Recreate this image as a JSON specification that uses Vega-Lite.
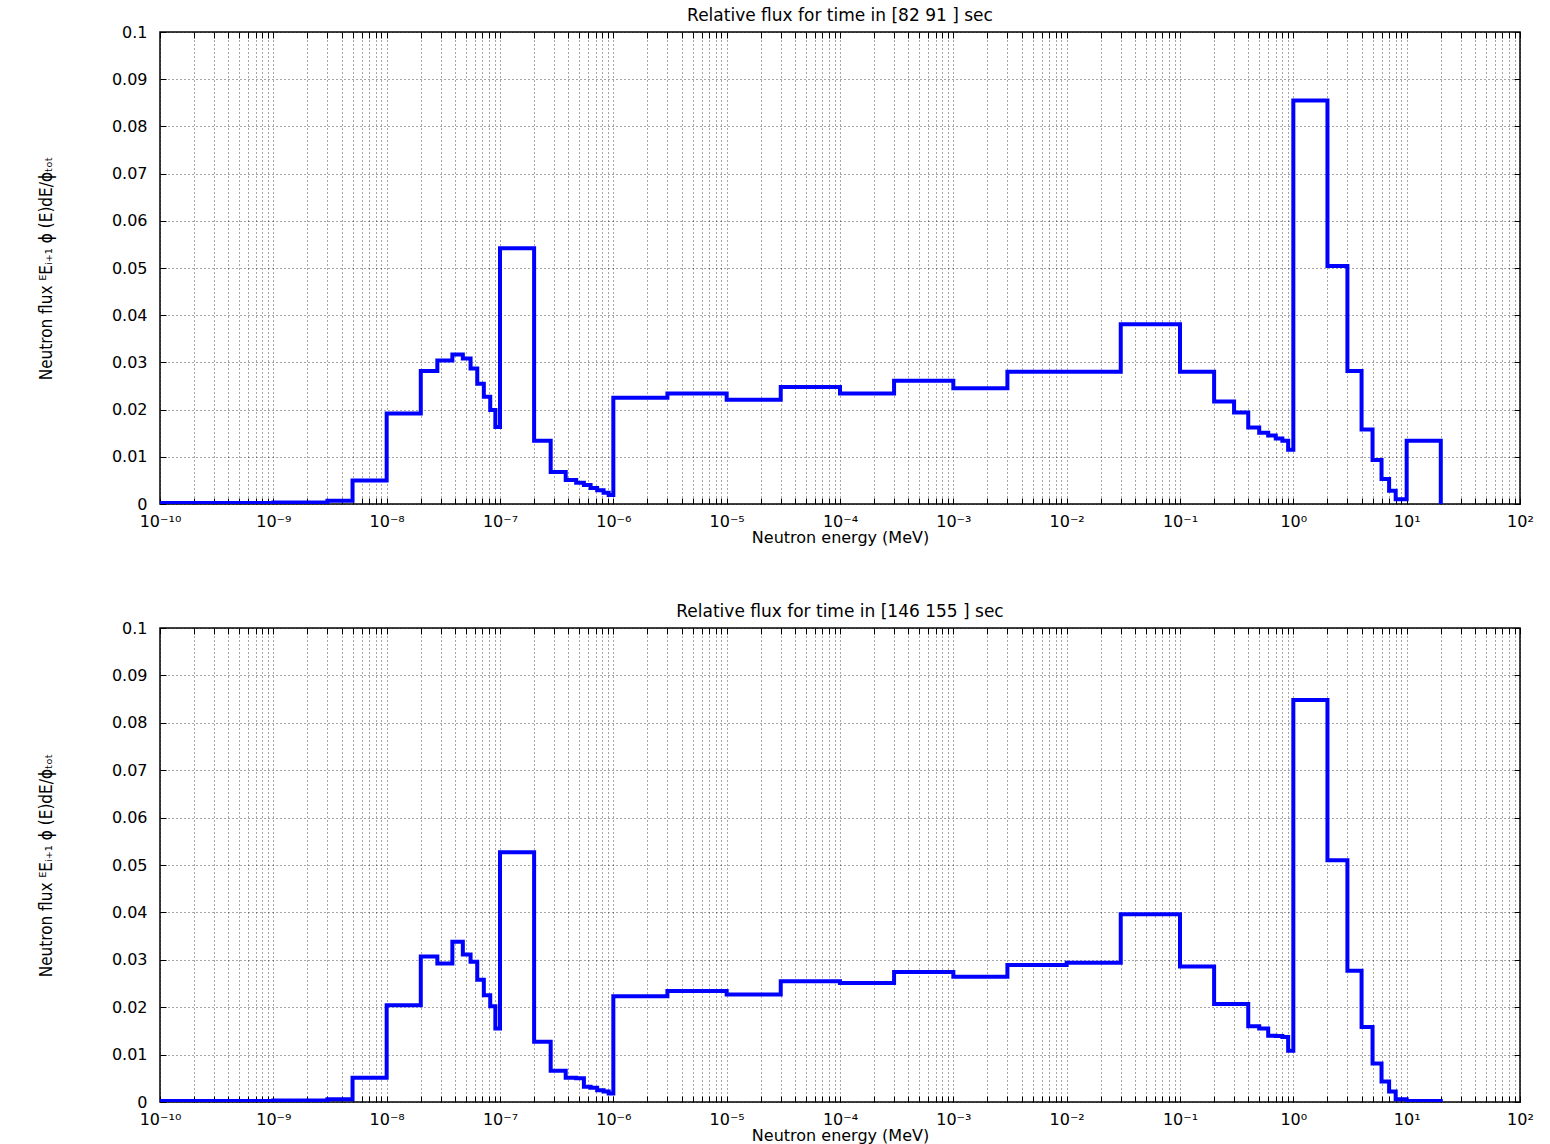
{
  "$schema": "https://vega.github.io/schema/vega-lite/v6.json",
  "background": "white",
  "padding": {"left": 36, "top": 6, "right": 25, "bottom": 0},
  "spacing": 56,
  "datasets": {
    "top": [
      {"E": 1e-10, "flux": 0.0002}, {"E": 1e-9, "flux": 0.0003}, {"E": 3e-9, "flux": 0.0007}, {"E": 5e-9, "flux": 0.0050},
      {"E": 1e-8, "flux": 0.0192}, {"E": 2e-8, "flux": 0.0282}, {"E": 2.8e-8, "flux": 0.0304}, {"E": 3.8e-8, "flux": 0.0317},
      {"E": 4.7e-8, "flux": 0.0308}, {"E": 5.5e-8, "flux": 0.0287}, {"E": 6.3e-8, "flux": 0.0255}, {"E": 7.2e-8, "flux": 0.0227},
      {"E": 8.2e-8, "flux": 0.0199}, {"E": 9.1e-8, "flux": 0.0163}, {"E": 1e-7, "flux": 0.0542}, {"E": 2e-7, "flux": 0.0134},
      {"E": 2.8e-7, "flux": 0.0068}, {"E": 3.8e-7, "flux": 0.0051}, {"E": 4.7e-7, "flux": 0.0045}, {"E": 5.5e-7, "flux": 0.0040},
      {"E": 6.3e-7, "flux": 0.0034}, {"E": 7.2e-7, "flux": 0.0029}, {"E": 8.2e-7, "flux": 0.0024}, {"E": 9.1e-7, "flux": 0.0019},
      {"E": 1e-6, "flux": 0.0225}, {"E": 3e-6, "flux": 0.0234}, {"E": 1e-5, "flux": 0.0221}, {"E": 3e-5, "flux": 0.0248},
      {"E": 1e-4, "flux": 0.0234}, {"E": 3e-4, "flux": 0.0261}, {"E": 1e-3, "flux": 0.0245}, {"E": 3e-3, "flux": 0.0280},
      {"E": 1e-2, "flux": 0.0280}, {"E": 3e-2, "flux": 0.0381}, {"E": 0.1, "flux": 0.0280}, {"E": 0.2, "flux": 0.0217},
      {"E": 0.3, "flux": 0.0194}, {"E": 0.4, "flux": 0.0162}, {"E": 0.5, "flux": 0.0151}, {"E": 0.6, "flux": 0.0145},
      {"E": 0.7, "flux": 0.0139}, {"E": 0.8, "flux": 0.0134}, {"E": 0.9, "flux": 0.0115}, {"E": 1, "flux": 0.0855},
      {"E": 2, "flux": 0.0504}, {"E": 3, "flux": 0.0282}, {"E": 4, "flux": 0.0158}, {"E": 5, "flux": 0.0093},
      {"E": 6, "flux": 0.0053}, {"E": 7, "flux": 0.0028}, {"E": 8, "flux": 0.0010}, {"E": 10, "flux": 0.0134},
      {"E": 20, "flux": 0}
    ],
    "bottom": [
      {"E": 1e-10, "flux": 0.0002}, {"E": 1e-9, "flux": 0.0003}, {"E": 3e-9, "flux": 0.0006}, {"E": 5e-9, "flux": 0.0051},
      {"E": 1e-8, "flux": 0.0204}, {"E": 2e-8, "flux": 0.0307}, {"E": 2.8e-8, "flux": 0.0292}, {"E": 3.8e-8, "flux": 0.0338},
      {"E": 4.7e-8, "flux": 0.0311}, {"E": 5.5e-8, "flux": 0.0296}, {"E": 6.3e-8, "flux": 0.0258}, {"E": 7.2e-8, "flux": 0.0225},
      {"E": 8.2e-8, "flux": 0.0202}, {"E": 9.1e-8, "flux": 0.0155}, {"E": 1e-7, "flux": 0.0527}, {"E": 2e-7, "flux": 0.0127},
      {"E": 2.8e-7, "flux": 0.0066}, {"E": 3.8e-7, "flux": 0.0051}, {"E": 4.7e-7, "flux": 0.0050}, {"E": 5.5e-7, "flux": 0.0032},
      {"E": 6.3e-7, "flux": 0.0030}, {"E": 7.2e-7, "flux": 0.0025}, {"E": 8.2e-7, "flux": 0.0022}, {"E": 9.1e-7, "flux": 0.0018},
      {"E": 1e-6, "flux": 0.0223}, {"E": 3e-6, "flux": 0.0234}, {"E": 1e-5, "flux": 0.0227}, {"E": 3e-5, "flux": 0.0255},
      {"E": 1e-4, "flux": 0.0251}, {"E": 3e-4, "flux": 0.0274}, {"E": 1e-3, "flux": 0.0264}, {"E": 3e-3, "flux": 0.0289},
      {"E": 1e-2, "flux": 0.0294}, {"E": 3e-2, "flux": 0.0396}, {"E": 0.1, "flux": 0.0286}, {"E": 0.2, "flux": 0.0207},
      {"E": 0.3, "flux": 0.0207}, {"E": 0.4, "flux": 0.0160}, {"E": 0.5, "flux": 0.0155}, {"E": 0.6, "flux": 0.0140},
      {"E": 0.7, "flux": 0.0139}, {"E": 0.8, "flux": 0.0137}, {"E": 0.9, "flux": 0.0108}, {"E": 1, "flux": 0.0848},
      {"E": 2, "flux": 0.0510}, {"E": 3, "flux": 0.0277}, {"E": 4, "flux": 0.0158}, {"E": 5, "flux": 0.0081},
      {"E": 6, "flux": 0.0043}, {"E": 7, "flux": 0.0022}, {"E": 8, "flux": 0.0006}, {"E": 10, "flux": 0.0002},
      {"E": 20, "flux": 0.0002}
    ]
  },
  "config": {
    "view": {"stroke": "black", "strokeWidth": 1.5},
    "font": "DejaVu Sans",
    "title": {"fontSize": 17, "fontWeight": "normal", "font": "DejaVu Sans", "offset": -1, "color": "black"},
    "axis": {
      "grid": true, "gridColor": "#000000", "gridDash": [1, 3], "gridOpacity": 0.7, "gridWidth": 1,
      "domain": false, "tickColor": "black", "tickSize": -6, "tickWidth": 1,
      "labelColor": "black", "labelFont": "DejaVu Sans", "labelOverlap": false, "labelFlush": false, "labelBound": false,
      "titleColor": "black", "titleFontWeight": "normal"
    }
  },
  "vconcat": [
    {
      "width": 1360, "height": 472,
      "title": "Relative flux for time in [82 91 ] sec",
      "data": {"name": "top"},
      "layer": [
        {
          "mark": {"type": "line", "interpolate": "step-after", "color": "#0000ff", "strokeWidth": 4, "strokeJoin": "miter", "strokeCap": "square", "clip": true},
          "encoding": {
            "x": {"field": "E", "type": "quantitative", "scale": {"type": "log", "domain": [1e-10, 100], "nice": false},
              "axis": {"orient": "bottom", "title": "Neutron energy (MeV)", "titleFontSize": 16, "titlePadding": 0, "labelFontSize": 16, "labelPadding": 15,
                "values": [1e-10,2e-10,3e-10,4e-10,5e-10,6e-10,7e-10,8e-10,9e-10,1e-9,2e-9,3e-9,4e-9,5e-9,6e-9,7e-9,8e-9,9e-9,1e-8,2e-8,3e-8,4e-8,5e-8,6e-8,7e-8,8e-8,9e-8,1e-7,2e-7,3e-7,4e-7,5e-7,6e-7,7e-7,8e-7,9e-7,1e-6,2e-6,3e-6,4e-6,5e-6,6e-6,7e-6,8e-6,9e-6,1e-5,2e-5,3e-5,4e-5,5e-5,6e-5,7e-5,8e-5,9e-5,1e-4,2e-4,3e-4,4e-4,5e-4,6e-4,7e-4,8e-4,9e-4,1e-3,2e-3,3e-3,4e-3,5e-3,6e-3,7e-3,8e-3,9e-3,0.01,0.02,0.03,0.04,0.05,0.06,0.07,0.08,0.09,0.1,0.2,0.3,0.4,0.5,0.6,0.7,0.8,0.9,1,2,3,4,5,6,7,8,9,10,20,30,40,50,60,70,80,90,100],
                "labelExpr": "abs(log(datum.value)/LN10 - round(log(datum.value)/LN10)) < 0.01 ? '10' + ['⁻¹⁰','⁻⁹','⁻⁸','⁻⁷','⁻⁶','⁻⁵','⁻⁴','⁻³','⁻²','⁻¹','⁰','¹','²'][round(log(datum.value)/LN10)+10] : ''"}},
            "y": {"field": "flux", "type": "quantitative", "scale": {"domain": [0, 0.1], "nice": false},
              "axis": {"orient": "left", "title": "Neutron flux ᴱEᵢ₊₁ ϕ (E)dE/ϕₜₒₜ", "titleFont": "Liberation Sans Narrow, DejaVu Sans Condensed, Liberation Sans", "titleFontSize": 17, "titlePadding": 56,
                "labelFontSize": 16, "labelPadding": 19, "format": ".2~f",
                "values": [0,0.01,0.02,0.03,0.04,0.05,0.06,0.07,0.08,0.09,0.1]}}
          }
        },
        {
          "mark": {"type": "line", "opacity": 0},
          "encoding": {
            "x": {"field": "E", "type": "quantitative",
              "axis": {"orient": "top", "title": null, "labels": false, "grid": false,
                "values": [1e-10,2e-10,3e-10,4e-10,5e-10,6e-10,7e-10,8e-10,9e-10,1e-9,2e-9,3e-9,4e-9,5e-9,6e-9,7e-9,8e-9,9e-9,1e-8,2e-8,3e-8,4e-8,5e-8,6e-8,7e-8,8e-8,9e-8,1e-7,2e-7,3e-7,4e-7,5e-7,6e-7,7e-7,8e-7,9e-7,1e-6,2e-6,3e-6,4e-6,5e-6,6e-6,7e-6,8e-6,9e-6,1e-5,2e-5,3e-5,4e-5,5e-5,6e-5,7e-5,8e-5,9e-5,1e-4,2e-4,3e-4,4e-4,5e-4,6e-4,7e-4,8e-4,9e-4,1e-3,2e-3,3e-3,4e-3,5e-3,6e-3,7e-3,8e-3,9e-3,0.01,0.02,0.03,0.04,0.05,0.06,0.07,0.08,0.09,0.1,0.2,0.3,0.4,0.5,0.6,0.7,0.8,0.9,1,2,3,4,5,6,7,8,9,10,20,30,40,50,60,70,80,90,100]}},
            "y": {"field": "flux", "type": "quantitative",
              "axis": {"orient": "right", "title": null, "labels": false, "grid": false,
                "values": [0,0.01,0.02,0.03,0.04,0.05,0.06,0.07,0.08,0.09,0.1]}}
          }
        }
      ],
      "resolve": {"axis": {"x": "independent", "y": "independent"}}
    },
    {
      "width": 1360, "height": 474,
      "title": "Relative flux for time in [146 155 ] sec",
      "data": {"name": "bottom"},
      "layer": [
        {
          "mark": {"type": "line", "interpolate": "step-after", "color": "#0000ff", "strokeWidth": 4, "strokeJoin": "miter", "strokeCap": "square", "clip": true},
          "encoding": {
            "x": {"field": "E", "type": "quantitative", "scale": {"type": "log", "domain": [1e-10, 100], "nice": false},
              "axis": {"orient": "bottom", "title": "Neutron energy (MeV)", "titleFontSize": 16, "titlePadding": 0, "labelFontSize": 16, "labelPadding": 15,
                "values": [1e-10,2e-10,3e-10,4e-10,5e-10,6e-10,7e-10,8e-10,9e-10,1e-9,2e-9,3e-9,4e-9,5e-9,6e-9,7e-9,8e-9,9e-9,1e-8,2e-8,3e-8,4e-8,5e-8,6e-8,7e-8,8e-8,9e-8,1e-7,2e-7,3e-7,4e-7,5e-7,6e-7,7e-7,8e-7,9e-7,1e-6,2e-6,3e-6,4e-6,5e-6,6e-6,7e-6,8e-6,9e-6,1e-5,2e-5,3e-5,4e-5,5e-5,6e-5,7e-5,8e-5,9e-5,1e-4,2e-4,3e-4,4e-4,5e-4,6e-4,7e-4,8e-4,9e-4,1e-3,2e-3,3e-3,4e-3,5e-3,6e-3,7e-3,8e-3,9e-3,0.01,0.02,0.03,0.04,0.05,0.06,0.07,0.08,0.09,0.1,0.2,0.3,0.4,0.5,0.6,0.7,0.8,0.9,1,2,3,4,5,6,7,8,9,10,20,30,40,50,60,70,80,90,100],
                "labelExpr": "abs(log(datum.value)/LN10 - round(log(datum.value)/LN10)) < 0.01 ? '10' + ['⁻¹⁰','⁻⁹','⁻⁸','⁻⁷','⁻⁶','⁻⁵','⁻⁴','⁻³','⁻²','⁻¹','⁰','¹','²'][round(log(datum.value)/LN10)+10] : ''"}},
            "y": {"field": "flux", "type": "quantitative", "scale": {"domain": [0, 0.1], "nice": false},
              "axis": {"orient": "left", "title": "Neutron flux ᴱEᵢ₊₁ ϕ (E)dE/ϕₜₒₜ", "titleFont": "Liberation Sans Narrow, DejaVu Sans Condensed, Liberation Sans", "titleFontSize": 17, "titlePadding": 56,
                "labelFontSize": 16, "labelPadding": 19, "format": ".2~f",
                "values": [0,0.01,0.02,0.03,0.04,0.05,0.06,0.07,0.08,0.09,0.1]}}
          }
        },
        {
          "mark": {"type": "line", "opacity": 0},
          "encoding": {
            "x": {"field": "E", "type": "quantitative",
              "axis": {"orient": "top", "title": null, "labels": false, "grid": false,
                "values": [1e-10,2e-10,3e-10,4e-10,5e-10,6e-10,7e-10,8e-10,9e-10,1e-9,2e-9,3e-9,4e-9,5e-9,6e-9,7e-9,8e-9,9e-9,1e-8,2e-8,3e-8,4e-8,5e-8,6e-8,7e-8,8e-8,9e-8,1e-7,2e-7,3e-7,4e-7,5e-7,6e-7,7e-7,8e-7,9e-7,1e-6,2e-6,3e-6,4e-6,5e-6,6e-6,7e-6,8e-6,9e-6,1e-5,2e-5,3e-5,4e-5,5e-5,6e-5,7e-5,8e-5,9e-5,1e-4,2e-4,3e-4,4e-4,5e-4,6e-4,7e-4,8e-4,9e-4,1e-3,2e-3,3e-3,4e-3,5e-3,6e-3,7e-3,8e-3,9e-3,0.01,0.02,0.03,0.04,0.05,0.06,0.07,0.08,0.09,0.1,0.2,0.3,0.4,0.5,0.6,0.7,0.8,0.9,1,2,3,4,5,6,7,8,9,10,20,30,40,50,60,70,80,90,100]}},
            "y": {"field": "flux", "type": "quantitative",
              "axis": {"orient": "right", "title": null, "labels": false, "grid": false,
                "values": [0,0.01,0.02,0.03,0.04,0.05,0.06,0.07,0.08,0.09,0.1]}}
          }
        }
      ],
      "resolve": {"axis": {"x": "independent", "y": "independent"}}
    }
  ]
}
